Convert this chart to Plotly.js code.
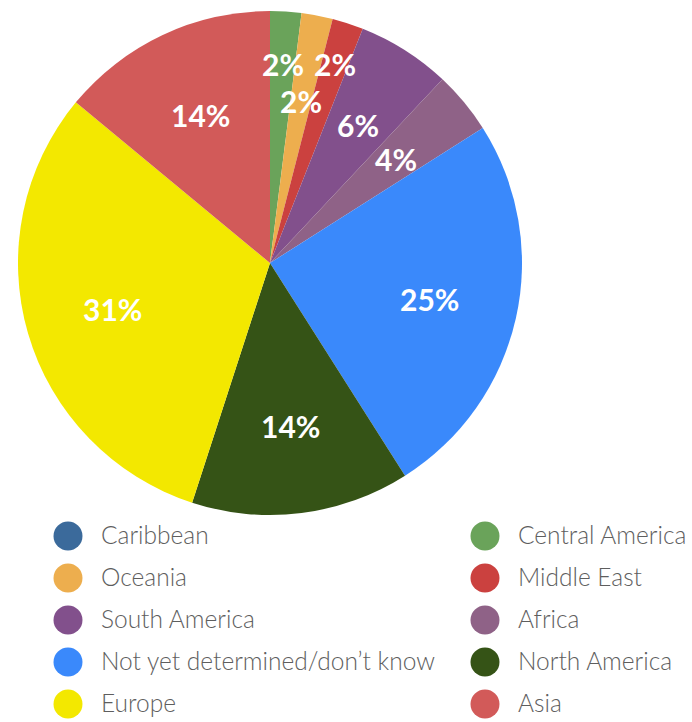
<!DOCTYPE html>
<html>
<head>
<meta charset="utf-8">
<script src="https://cdn.plot.ly/plotly-3.0.1.min.js"></script>
<style>
html,body{margin:0;padding:0;background:#fff;}
#chart{width:692px;height:722px;}
</style>
</head>
<body>
<div id="chart"></div>
<script>
// ---- data ----
const categories = ["Caribbean", "Central America", "Oceania", "Middle East", "South America",
                    "Africa", "Not yet determined/don’t know", "North America", "Europe", "Asia"];
const values = [0, 2, 2, 2, 6, 4, 25, 14, 31, 14];
const colors = ["#3b6a9b", "#6aa35a", "#edae4e", "#cb413f", "#82508c",
                "#8f6287", "#3a89fb", "#355316", "#f3e800", "#d25a59"];

// ---- layout geometry ----
const W = 692, H = 722;
const pieLeft = 18, pieTop = 11, pieSize = 504;
const cx = pieLeft + pieSize / 2, cy = pieTop + pieSize / 2, R = pieSize / 2;

// pie (zero slices omitted)
const pv = [], pl = [], pc = [];
values.forEach((v, i) => { if (v > 0) { pv.push(v); pl.push(categories[i]); pc.push(colors[i]); } });

const pie = {
  type: 'pie',
  values: pv, labels: pl,
  marker: {colors: pc, line: {width: 0}},
  sort: false, direction: 'clockwise', rotation: 0,
  textinfo: 'none', hoverinfo: 'label+percent',
  showlegend: false,
  domain: {x: [pieLeft / W, (pieLeft + pieSize) / W], y: [1 - (pieTop + pieSize) / H, 1 - pieTop / H]}
};

// percent labels placed along slice mid-angles (small slices staggered in/out)
const total = pv.reduce((a, b) => a + b, 0);
const annotations = [];
let cum = 0, smallCount = 0;
pv.forEach((v, i) => {
  const pct = v / total * 100;
  const mid = (cum + v / 2) / total * 2 * Math.PI;
  cum += v;
  let f = 0.65;
  if (pct < 3) { f = (smallCount % 2 === 0) ? 0.79 + 0.02 * smallCount : 0.655; smallCount++; }
  const px = cx + R * f * Math.sin(mid);
  const py = cy - R * f * Math.cos(mid);
  annotations.push({
    xref: 'paper', yref: 'paper', x: px / W, y: 1 - py / H,
    xanchor: 'center', yanchor: 'middle', showarrow: false,
    text: Math.round(pct) + '%',
    font: {family: 'Lato, sans-serif', size: 30, color: '#ffffff', weight: 700}
  });
});

// custom legend: two columns, row-wise order
const legTop = 536, legStep = 42, colX = [68, 485], textGap = 33;
const lx = [], ly = [], tx = [], ty = [];
categories.forEach((c, i) => {
  const col = i % 2, row = Math.floor(i / 2);
  lx.push(colX[col]); ly.push(legTop + row * legStep);
  tx.push(colX[col] + textGap); ty.push(legTop + row * legStep + 1.5);
});
const legMarkers = {
  type: 'scatter', mode: 'markers', x: lx, y: ly, xaxis: 'x', yaxis: 'y',
  marker: {size: 29, color: colors, line: {width: 0}}, hoverinfo: 'skip', showlegend: false
};
const legText = {
  type: 'scatter', mode: 'text', x: tx, y: ty, text: categories, xaxis: 'x', yaxis: 'y',
  textposition: 'middle right',
  textfont: {family: 'Lato, sans-serif', size: 24.5, color: '#5e5e5e', weight: 300},
  hoverinfo: 'skip', showlegend: false
};

const layout = {
  width: W, height: H,
  margin: {l: 0, r: 0, t: 0, b: 0},
  paper_bgcolor: '#ffffff', plot_bgcolor: 'rgba(0,0,0,0)',
  showlegend: false,
  xaxis: {range: [0, W], domain: [0, 1], visible: false, fixedrange: true},
  yaxis: {range: [H, 0], domain: [0, 1], visible: false, fixedrange: true},
  annotations: annotations
};

Plotly.newPlot('chart', [pie, legMarkers, legText], layout, {displayModeBar: false, staticPlot: true});
</script>
</body>
</html>
